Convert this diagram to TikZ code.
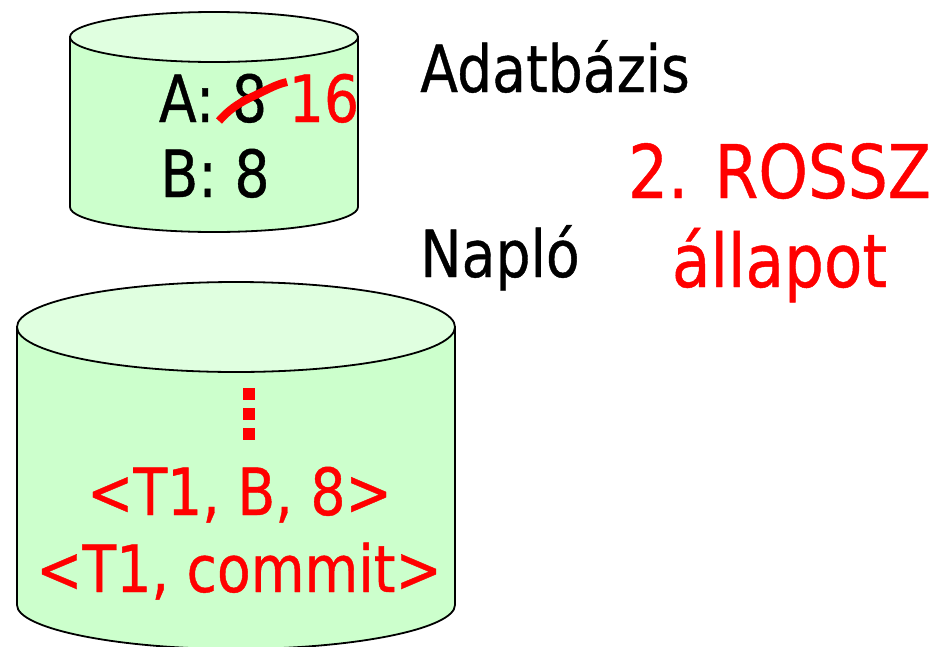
\documentclass[tikz,border=0pt]{standalone}
\usepackage{fontspec}
\setmainfont{DejaVu Sans}[FakeStretch=0.85,FakeBold=0.6]
\definecolor{cylbody}{RGB}{204,255,204}
\definecolor{cyltop}{RGB}{224,255,224}
\definecolor{pred}{RGB}{255,0,0}
\begin{document}
\begin{tikzpicture}[x=1pt,y=-1pt,
  cyl/.style={fill=cylbody,draw=black,line width=1.8pt},
  cyltopst/.style={fill=cyltop,draw=black,line width=1.8pt},
  txt/.style={font=\fontsize{65}{70}\selectfont,inner sep=0pt,anchor=base},
  bigtxt/.style={font=\fontsize{74}{80}\selectfont,inner sep=0pt,anchor=base,text=pred},
  redtxt/.style={txt,text=pred},
  dotsq/.style={fill=pred}]
\useasboundingbox (0,0) rectangle (943,646);
\clip (0,0) rectangle (943,646);
% top cylinder (Adatbazis)
\path[cyl] (70,37) -- (70,207) .. controls (70,220.8) and (134.5,232) .. (214,232)
  .. controls (293.5,232) and (358,220.8) .. (358,207) -- (358,37) -- cycle;
\path[cyltopst] (214,37) ellipse [x radius=144pt,y radius=25pt];
% bottom cylinder (Naplo)
\path[cyl] (17,327) -- (17,605) .. controls (17,628.2) and (115,649) .. (236,649)
  .. controls (357,649) and (455,628.2) .. (455,605) -- (455,327) -- cycle;
\path[cyltopst] (236,327) ellipse [x radius=219pt,y radius=45pt];
% database contents
\node[txt] (a) at (213,122) {A: 8};
\node[txt] (b) at (215,197) {B: 8};
\node[redtxt] (sixteen) at (324,122) {16};
\draw[pred,line width=8pt] (219,121) .. controls (232,106) and (245,100) .. (258,94)
  .. controls (270,88) and (278,84) .. (287,82);
% labels
\node[txt] (adatb) at (555,92) {Adatbázis};
\node[txt] (naplo) at (500,277) {Napló};
\node[bigtxt] (rossz) at (779.5,198) {2. ROSSZ};
\node[bigtxt] (allapot) at (779.5,287) {állapot};
% log contents
\path[dotsq] (243,388) rectangle (255,400);
\path[dotsq] (243,408) rectangle (255,420);
\path[dotsq] (243,428) rectangle (255,440);
\node[redtxt] (logb) at (239.5,515) {<T1, B, 8>};
\node[redtxt] (logc) at (239,592) {<T1, commit>};
\end{tikzpicture}
\end{document}
